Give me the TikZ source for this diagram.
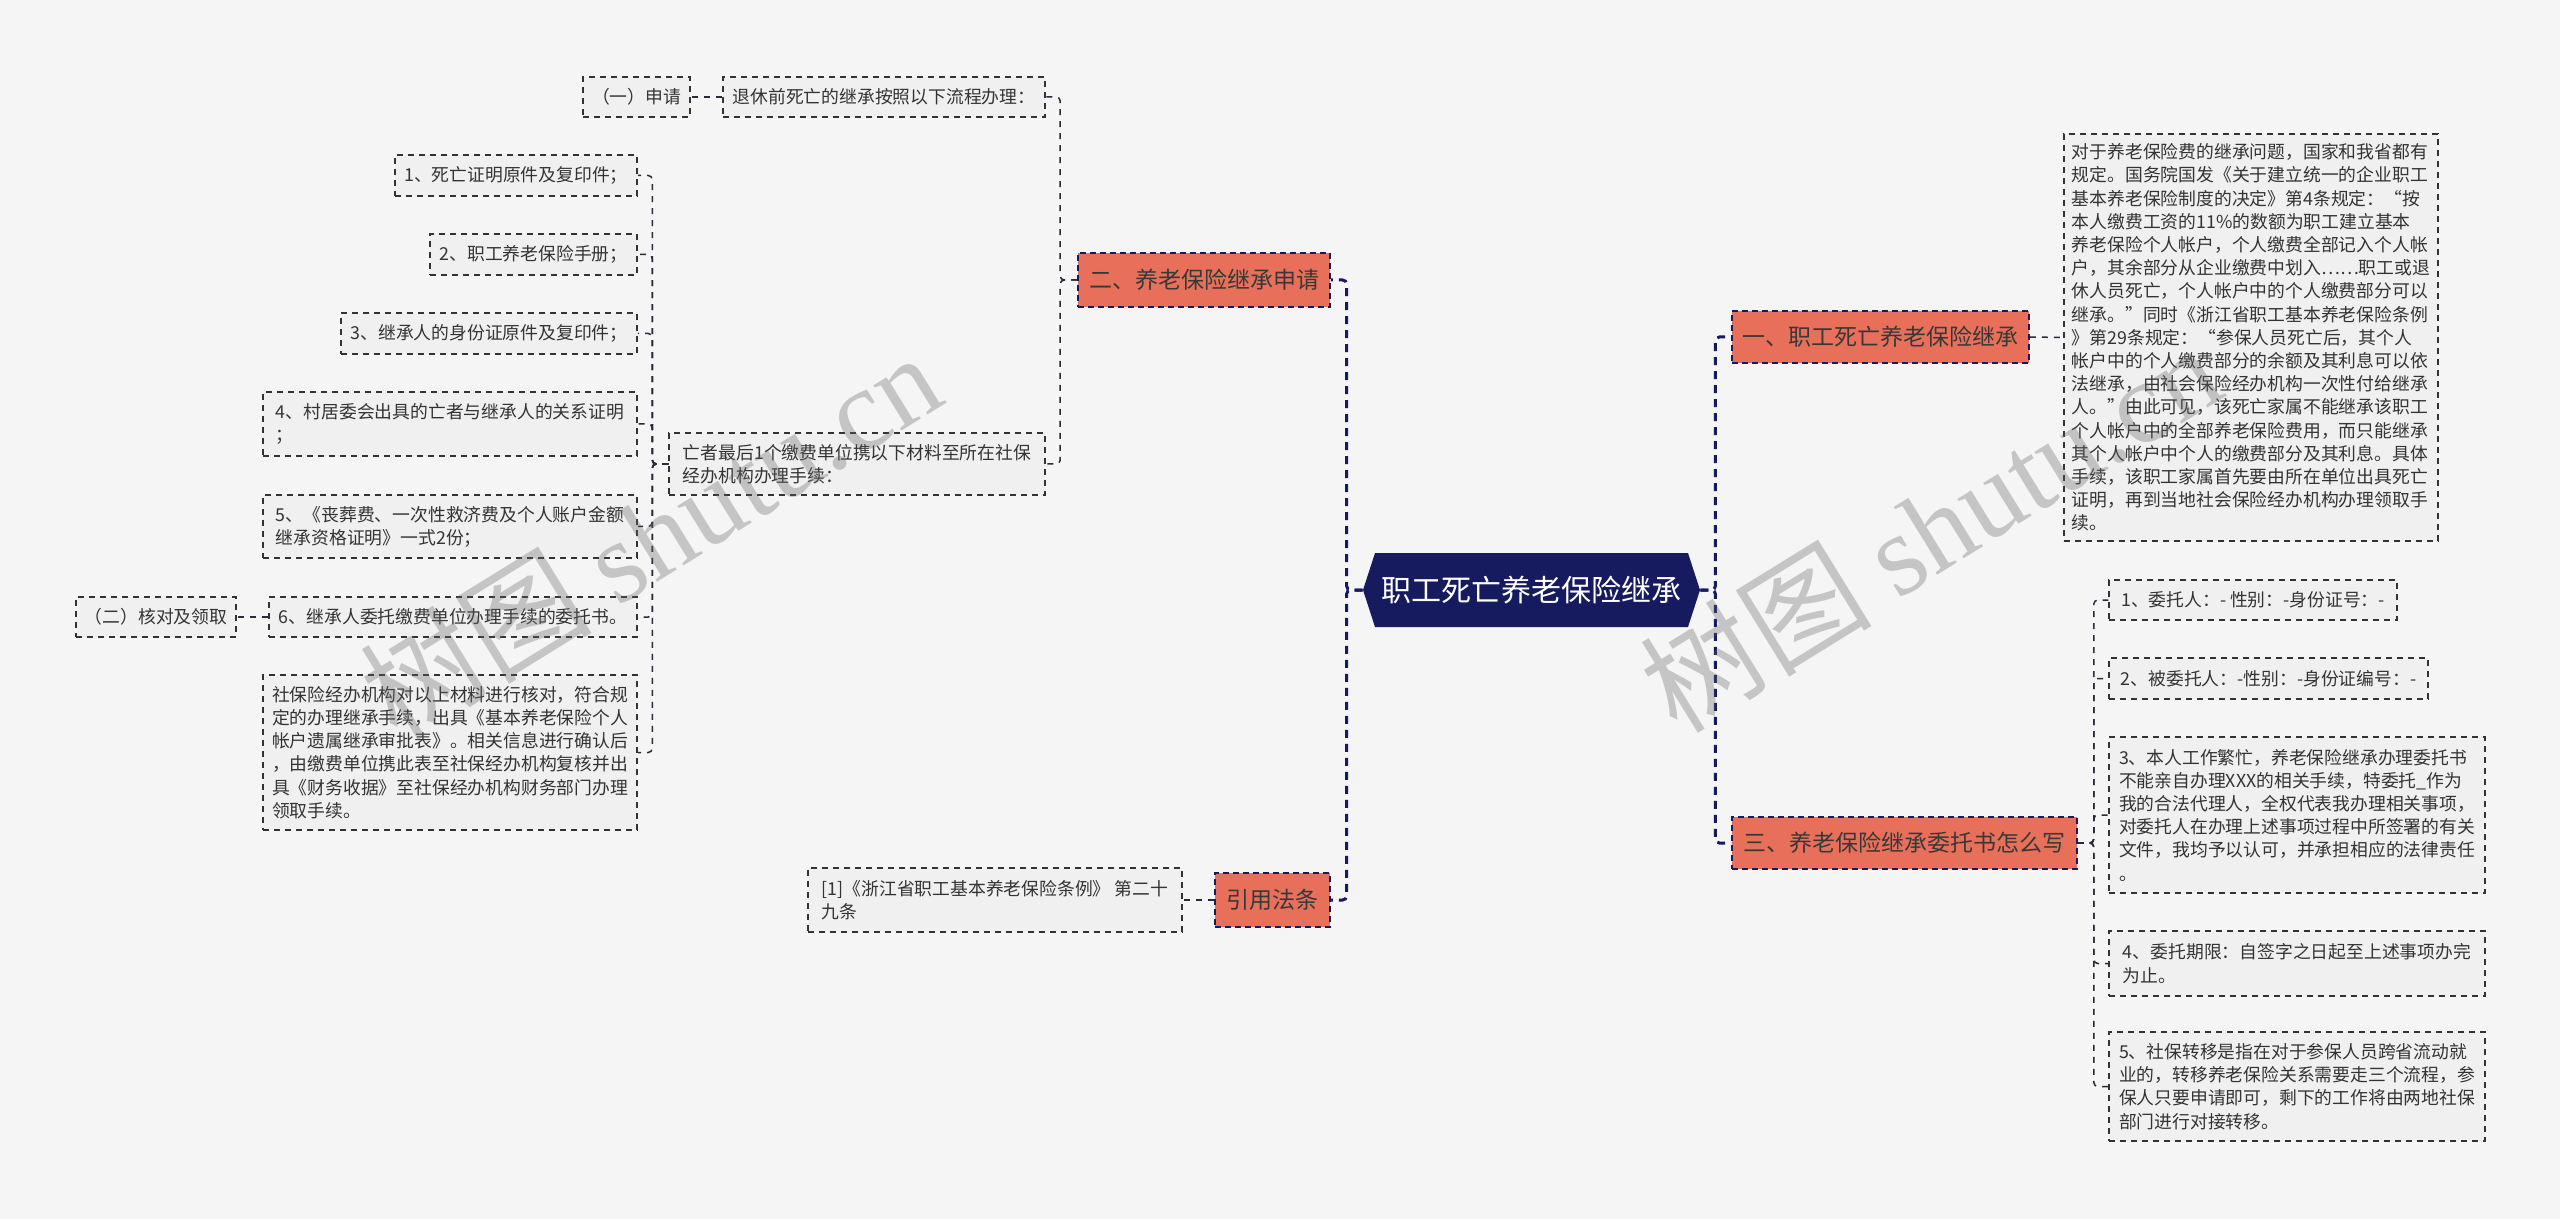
\documentclass[tikz,border=0pt]{standalone}
\usepackage{fontspec}
\setmainfont{Noto Sans CJK SC}
\newfontfamily\wmlatin{Liberation Serif}
\definecolor{bgc}{HTML}{F5F5F5}
\definecolor{navy}{HTML}{161A5E}
\definecolor{coral}{HTML}{E8705A}
\definecolor{leaffill}{HTML}{F0F0F0}
\definecolor{leafline}{HTML}{333333}
\definecolor{txt}{HTML}{333333}
\definecolor{linec}{HTML}{2A2A3A}
\tikzset{
  leaf/.style={draw=leafline, line width=0.75pt, dash pattern=on 3pt off 2.5pt, fill=leaffill, text=txt,
    font=\fontsize{8.9pt}{11.6pt}\selectfont, align=left, inner sep=0pt},
  branch/.style={draw=navy, line width=0.8pt, dash pattern=on 3pt off 2pt, fill=coral, text=black!78,
    font=\fontsize{11.5pt}{14pt}\selectfont, inner sep=0pt},
  rootnode/.style={text=white, font=\fontsize{15pt}{18pt}\selectfont, inner sep=0pt,
    minimum width=168.5pt, minimum height=37pt},
  mainline/.style={draw=navy, line width=1.5pt, dash pattern=on 4pt off 3pt, rounded corners=2pt},
  subline/.style={draw=linec, line width=0.75pt, dash pattern=on 3pt off 3pt, rounded corners=2pt},
  wmark/.style={text=black!60, text opacity=0.33, rotate=31.7, inner sep=0pt}
}
\begin{document}
\begin{tikzpicture}[x=0.5pt, y=-0.5pt]
\fill[bgc] (0,0) rectangle (2560,1219);
\useasboundingbox (0,0) rectangle (2560,1219);

% root
\fill[navy] (1363,590) -- (1375,553) -- (1688,553) -- (1700,590) -- (1688,627) -- (1375,627) -- cycle;
\node[rootnode] (root) at (1531.5,590) {职工死亡养老保险继承};

% branches
\node[branch, minimum width=126pt, minimum height=27pt] (B2) at (1204,280) {二、养老保险继承申请};
\node[branch, minimum width=57.5pt, minimum height=27pt] (BY) at (1272.5,900) {引用法条};
\node[branch, minimum width=148.5pt, minimum height=26pt] (B1) at (1880.5,337) {一、职工死亡养老保险继承};
\node[branch, minimum width=172.5pt, minimum height=26pt] (B3) at (1904.5,843) {三、养老保险继承委托书怎么写};

% left leaves
\node[leaf, minimum width=161pt, minimum height=20pt] (Ltui) at (884,97) {退休前死亡的继承按照以下流程办理：};
\node[leaf, minimum width=53.5pt, minimum height=20pt] (Lsq) at (636.5,97) {（一）申请};
\node[leaf, minimum width=188pt, minimum height=31pt] (Lwz) at (857,464) {亡者最后1个缴费单位携以下材料至所在社保\\经办机构办理手续：};
\node[leaf, minimum width=121pt, minimum height=20.5pt] (I1) at (516,175.5) {1、死亡证明原件及复印件；};
\node[leaf, minimum width=103.5pt, minimum height=20.5pt] (I2) at (533.5,254.5) {2、职工养老保险手册；};
\node[leaf, minimum width=148pt, minimum height=20.5pt] (I3) at (489,333.5) {3、继承人的身份证原件及复印件；};
\node[leaf, minimum width=187pt, minimum height=32pt] (I4) at (450,424) {4、村居委会出具的亡者与继承人的关系证明\\；};
\node[leaf, minimum width=187pt, minimum height=31.5pt] (I5) at (450,526.5) {5、《丧葬费、一次性救济费及个人账户金额\\继承资格证明》一式2份；};
\node[leaf, minimum width=184pt, minimum height=20pt] (I6) at (453,617) {6、继承人委托缴费单位办理手续的委托书。};
\node[leaf, minimum width=187pt, minimum height=77.5pt] (I7) at (450,752.5) {社保险经办机构对以上材料进行核对，符合规\\定的办理继承手续，出具《基本养老保险个人\\帐户遗属继承审批表》。相关信息进行确认后\\，由缴费单位携此表至社保经办机构复核并出\\具《财务收据》至社保经办机构财务部门办理\\领取手续。};
\node[leaf, minimum width=80pt, minimum height=20pt] (Lhd) at (156,617) {（二）核对及领取};
\node[leaf, minimum width=187pt, minimum height=32pt] (Llaw) at (995,900) {[1]《浙江省职工基本养老保险条例》 第二十\\九条};

% right leaves
\node[leaf, minimum width=187pt, minimum height=203.5pt] (Rbig) at (2251,337.5) {对于养老保险费的继承问题，国家和我省都有\\规定。国务院国发《关于建立统一的企业职工\\基本养老保险制度的决定》第4条规定：“按\\本人缴费工资的11\%的数额为职工建立基本\\养老保险个人帐户，个人缴费全部记入个人帐\\户，其余部分从企业缴费中划入……职工或退\\休人员死亡，个人帐户中的个人缴费部分可以\\继承。”同时《浙江省职工基本养老保险条例\\》第29条规定：“参保人员死亡后，其个人\\帐户中的个人缴费部分的余额及其利息可以依\\法继承，由社会保险经办机构一次性付给继承\\人。”由此可见，该死亡家属不能继承该职工\\个人帐户中的全部养老保险费用，而只能继承\\其个人帐户中个人的缴费部分及其利息。具体\\手续，该职工家属首先要由所在单位出具死亡\\证明，再到当地社会保险经办机构办理领取手\\续。};
\node[leaf, minimum width=144pt, minimum height=20pt] (R1) at (2253,600) {1、委托人：- 性别：-身份证号：-};
\node[leaf, minimum width=159.5pt, minimum height=20.5pt] (R2) at (2268.5,678.5) {2、被委托人：-性别：-身份证编号：-};
\node[leaf, minimum width=188pt, minimum height=78pt] (R3) at (2297,815) {3、本人工作繁忙，养老保险继承办理委托书\\不能亲自办理XXX的相关手续，特委托\_作为\\我的合法代理人，全权代表我办理相关事项，\\对委托人在办理上述事项过程中所签署的有关\\文件，我均予以认可，并承担相应的法律责任\\。};
\node[leaf, minimum width=188pt, minimum height=32.5pt] (R4) at (2297,963.5) {4、委托期限：自签字之日起至上述事项办完\\为止。};
\node[leaf, minimum width=188pt, minimum height=54.5pt] (R5) at (2297,1086.5) {5、社保转移是指在对于参保人员跨省流动就\\业的，转移养老保险关系需要走三个流程，参\\保人只要申请即可，剩下的工作将由两地社保\\部门进行对接转移。};

% main connectors
\draw[mainline] (root.west) -- ++(-16,0) |- (B2.east);
\draw[mainline] (root.west) -- ++(-16,0) |- (BY.east);
\draw[mainline] (root.east) -- ++(15,0) |- (B1.west);
\draw[mainline] (root.east) -- ++(15,0) |- (B3.west);

% sub connectors
\draw[subline] (B2.west) -- ++(-17,0) |- (Ltui.east);
\draw[subline] (B2.west) -- ++(-17,0) |- (Lwz.east);
\draw[subline] (Ltui.west) -- (Lsq.east);
\foreach \n in {I1,I2,I3,I4,I5,I6,I7}{
  \draw[subline] (Lwz.west) -- ++(-16,0) |- (\n.east);
}
\draw[subline] (I6.west) -- (Lhd.east);
\draw[subline] (BY.west) -- (Llaw.east);
\draw[subline] (B1.east) -- (Rbig.west);
\foreach \n in {R1,R2,R3,R4,R5}{
  \draw[subline] (B3.east) -- ++(16,0) |- (\n.west);
}

% watermarks
\node[wmark] (wm1) at (650,535) {\fontsize{58pt}{60pt}\selectfont 树图 {\wmlatin shutu.cn}};
\node[wmark] (wm2) at (1930,528) {\fontsize{58pt}{60pt}\selectfont 树图 {\wmlatin shutu.cn}};
\end{tikzpicture}
\end{document}
